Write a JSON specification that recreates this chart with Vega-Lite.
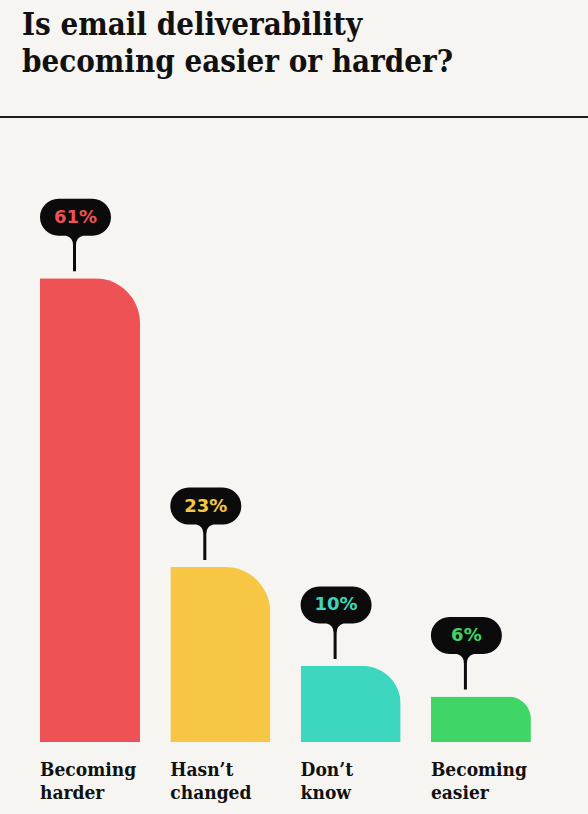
{
  "$schema": "https://vega.github.io/schema/vega-lite/v6.json",
  "width": 588,
  "height": 625,
  "autosize": {"type": "none"},
  "padding": {"left": 0, "top": 117, "right": 0, "bottom": 72},
  "background": "#f6f5f2",
  "title": {
    "text": ["Is email deliverability", "becoming easier or harder?"],
    "anchor": "start",
    "frame": "group",
    "dx": 22,
    "offset": 37,
    "font": "'DejaVu Serif Condensed', 'DejaVu Serif', serif",
    "fontSize": 31,
    "fontWeight": "bold",
    "lineHeight": 37,
    "color": "#111111"
  },
  "data": {
    "values": [
      {"answer": "Becoming harder", "pct": 61},
      {"answer": "Hasn’t changed", "pct": 23},
      {"answer": "Don’t know", "pct": 10},
      {"answer": "Becoming easier", "pct": 6}
    ]
  },
  "transform": [{"calculate": "datum.pct + '%'", "as": "pct_label"}],
  "encoding": {
    "x": {
      "field": "answer",
      "type": "nominal",
      "sort": null,
      "scale": {"paddingInner": 0.2325, "paddingOuter": 0.3726, "align": 0.412},
      "axis": {
        "title": null,
        "domain": false,
        "ticks": false,
        "labelAngle": 0,
        "labelAlign": "left",
        "labelBaseline": "top",
        "labelOffset": -50,
        "labelPadding": 18,
        "labelExpr": "split(datum.label, ' ')",
        "labelFont": "'DejaVu Serif Condensed', 'DejaVu Serif', serif",
        "labelFontSize": 19,
        "labelFontWeight": "bold",
        "labelLineHeight": 23,
        "labelColor": "#111111"
      }
    },
    "y": {
      "field": "pct",
      "type": "quantitative",
      "scale": {"domain": [0, 82.2], "nice": false},
      "axis": null
    },
    "color": {
      "field": "answer",
      "type": "nominal",
      "sort": null,
      "scale": {
        "domain": ["Becoming harder", "Hasn’t changed", "Don’t know", "Becoming easier"],
        "range": ["#ee5254", "#f7c645", "#3dd6bf", "#40d567"]
      },
      "legend": null
    }
  },
  "layer": [
    {
      "mark": {"type": "bar", "cornerRadiusTopRight": 45}
    },
    {
      "mark": {
        "type": "point",
        "filled": true,
        "size": 4,
        "opacity": 1,
        "strokeWidth": 0,
        "color": "#0b0b0b",
        "shape": "M -31.5 -79.5 H 2.5 A 18.5 18.5 0 0 1 2.5 -42.5 H -7 Q -14 -41 -14 -33 V -7 H -17 V -33 Q -17 -41 -24 -42.5 H -31.5 A 18.5 18.5 0 0 1 -31.5 -79.5 Z"
      },
      "encoding": {"color": {"value": "#0b0b0b"}}
    },
    {
      "mark": {
        "type": "text",
        "dx": -14.5,
        "dy": -60.5,
        "align": "center",
        "baseline": "middle",
        "font": "'DejaVu Sans', sans-serif",
        "fontSize": 18,
        "fontWeight": "bold"
      },
      "encoding": {"text": {"field": "pct_label"}}
    },
    {
      "mark": {"type": "rule", "color": "#111111", "strokeWidth": 1.2},
      "encoding": {"y": {"datum": 82.2}, "x": null, "color": {"value": "#111111"}}
    }
  ],
  "config": {"view": {"stroke": null}}
}
